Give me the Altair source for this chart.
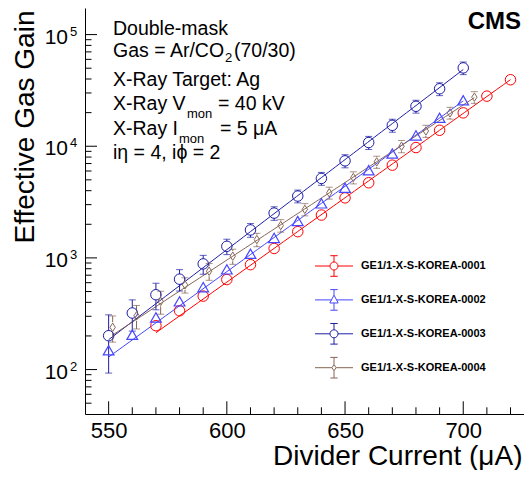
import altair as alt
import pandas as pd

# ---------------- data ----------------
series_names = ["GE1/1-X-S-KOREA-0001", "GE1/1-X-S-KOREA-0002",
                "GE1/1-X-S-KOREA-0003", "GE1/1-X-S-KOREA-0004"]
series_colors = ["#ff0000", "#4646ff", "#1e1ea5", "#876657"]

current_0001 = [570, 580, 590, 600, 610, 620, 630, 640, 650, 660, 670, 680, 690, 700, 710, 720]
gain_0001 = [247, 336, 455, 640, 870, 1215, 1718, 2420, 3450, 4710, 6770, 9730, 13900, 19900, 28100, 39400]
err_0001 = [0, 0, 0, 0, 0, 0, 0, 0, 0, 0, 0, 0, 0, 0, 0, 0]

current_0002 = [550, 560, 570, 580, 590, 600, 610, 620, 630, 640, 650, 660, 670, 680, 690, 700]
gain_0002 = [149, 205, 293, 408, 547, 790, 1090, 1510, 2140, 3080, 4250, 6100, 8600, 12500, 18000, 25800]
err_0002 = [0, 0, 0, 0, 0, 0, 0, 0, 0, 0, 0, 0, 0, 0, 0, 0]

current_0003 = [550, 560, 570, 580, 590, 600, 610, 620, 630, 640, 650, 660, 670, 680, 690, 700]
gain_0003 = [201, 321, 468, 645, 884, 1270, 1780, 2520, 3580, 5150, 7400, 10800, 15400, 22800, 32700, 50300]
err_0003 = [108, 100, 125, 140, 170, 200, 250, 350, 470, 680, 990, 1450, 2050, 3000, 4300, 6500]

current_0004 = [551.7, 561.8, 572.0, 582.3, 592.5, 602.5, 612.7, 622.8, 633.0, 643.3, 653.5, 663.4, 673.9, 684.2, 694.4, 704.7]
gain_0004 = [239, 303, 408, 574, 760, 1036, 1460, 1950, 2720, 3830, 5250, 7240, 10000, 13700, 19900, 27500]
err_0004 = [63, 72, 95, 90, 130, 160, 200, 250, 340, 470, 650, 900, 1250, 1700, 2400, 3300]

x_major_ticks = [550, 600, 650, 700]
x_minor_ticks = [560, 570, 580, 590, 610, 620, 630, 640, 660, 670, 680, 690, 710, 720]
y_major_ticks = [100, 1000, 10000, 100000]
y_minor_ticks = [50, 60, 70, 80, 90,
                 200, 300, 400, 500, 600, 700, 800, 900,
                 2000, 3000, 4000, 5000, 6000, 7000, 8000, 9000,
                 20000, 30000, 40000, 50000, 60000, 70000, 80000, 90000]
y_label_exponents = ["2", "3", "4", "5"]

# ---------------- table ----------------
rows = []
for name, xs, ys, es in zip(series_names,
                            [current_0001, current_0002, current_0003, current_0004],
                            [gain_0001, gain_0002, gain_0003, gain_0004],
                            [err_0001, err_0002, err_0003, err_0004]):
    for xv, yv, ev in zip(xs, ys, es):
        rows.append({"series": name, "current": xv, "gain": yv, "err": ev,
                     "lo": yv - ev, "hi": yv + ev})
df = pd.DataFrame(rows)

FONT = "Liberation Sans"
W, H = 439, 406
xscale = alt.Scale(domain=[540, 725.7], nice=False, zero=False)
yscale = alt.Scale(type="log", domain=[40, 173000], nice=False)
cscale = alt.Scale(domain=series_names, range=series_colors)

xaxis = alt.Axis(title="Divider Current (μA)", titleFont=FONT, titleFontSize=28,
                 titleFontWeight="normal", titleColor="black", titleX=437, titleY=50,
                 titleAlign="right", titleBaseline="alphabetic",
                 values=x_major_ticks, format="d", labelFont=FONT, labelFontSize=22,
                 labelColor="black", labelPadding=6, labelFlush=False, labelOverlap=False,
                 ticks=False, tickSize=0, grid=False, domainColor="black", domainWidth=1)
yaxis = alt.Axis(title="Effective Gas Gain", titleFont=FONT, titleFontSize=28,
                 titleFontWeight="normal", titleColor="black", titleX=-52, titleY=2,
                 titleAngle=270, titleAlign="right", titleBaseline="alphabetic",
                 labels=False, ticks=False, tickSize=0, grid=False,
                 domainColor="black", domainWidth=1)

X = alt.X("current:Q", scale=xscale, axis=xaxis)
Y = alt.Y("gain:Q", scale=yscale, axis=yaxis)
C = alt.Color("series:N", scale=cscale, legend=None)

base = alt.Chart(df)

# fitted exponential lines
lines = base.transform_regression("current", "gain", method="exp", groupby=["series"]).mark_line(
    strokeWidth=1).encode(x=X, y=Y, color=C)

# error bars (outside the marker) + caps
errdata = base.transform_filter(alt.datum.err > 0)
err_up = errdata.mark_rule(strokeWidth=1, y2Offset=-5).encode(
    x=X, y=alt.Y("hi:Q", scale=yscale, axis=yaxis), y2="gain:Q", color=C)
err_dn = errdata.mark_rule(strokeWidth=1, y2Offset=5).encode(
    x=X, y=alt.Y("lo:Q", scale=yscale, axis=yaxis), y2="gain:Q", color=C)
cap_up = errdata.mark_tick(orient="horizontal", size=7, thickness=1).encode(
    x=X, y=alt.Y("hi:Q", scale=yscale, axis=yaxis), color=C)
cap_dn = errdata.mark_tick(orient="horizontal", size=7, thickness=1).encode(
    x=X, y=alt.Y("lo:Q", scale=yscale, axis=yaxis), color=C)

# markers
diamond_path = "M0,-1.4L0.9,0L0,1.4L-0.9,0Z"
circ = base.transform_filter(alt.FieldOneOfPredicate(field="series", oneOf=[series_names[0], series_names[2]])).mark_point(
    shape="circle", size=110, filled=False, strokeWidth=1, opacity=1).encode(x=X, y=Y, color=C)
tri = base.transform_filter(alt.FieldEqualPredicate(field="series", equal=series_names[1])).mark_point(
    shape="triangle-up", size=115, filled=False, strokeWidth=1.2, opacity=1).encode(x=X, y=Y, color=C)
dia = base.transform_filter(alt.FieldEqualPredicate(field="series", equal=series_names[3])).mark_point(
    shape=diamond_path, size=36, filled=False, strokeWidth=1, opacity=1).encode(x=X, y=Y, color=C)

# legend glyphs: line + marker + error bar (unit = 14 px)
circle_glyph = ("M-1.357,0H-0.286M0.286,0H1.357M0,-0.286V-0.736M-0.264,-0.736H0.264"
                "M0,0.286V0.736M-0.264,0.736H0.264"
                "M-0.286,0A0.286,0.286 0 1 0 0.286,0A0.286,0.286 0 1 0 -0.286,0Z")
tri_glyph = ("M-1.357,0H-0.18M0.18,0H1.357M0,-0.34V-0.736M-0.264,-0.736H0.264"
             "M0,0.22V0.736M-0.264,0.736H0.264M0,-0.34L0.3,0.22L-0.3,0.22Z")
dia_glyph = ("M-1.357,0H-0.15M0.15,0H1.357M0,-0.22V-0.736M-0.264,-0.736H0.264"
             "M0,0.22V0.736M-0.264,0.736H0.264M0,-0.22L0.15,0L0,0.22L-0.15,0Z")
legend_paths = [circle_glyph, tri_glyph, circle_glyph, dia_glyph]

leg = alt.Legend(title=None, orient="none", legendX=234.5, legendY=243.5, padding=0,
                 labelFont=FONT, labelFontSize=11, labelFontWeight="bold", labelColor="black",
                 symbolSize=784, symbolStrokeWidth=1, symbolOpacity=1, rowPadding=6.9,
                 labelOffset=12.5, labelLimit=300)
legend_layer = alt.Chart(df).mark_point(opacity=0, filled=False).encode(
    x=X, y=Y,
    color=alt.Color("series:N", scale=cscale, legend=leg),
    shape=alt.Shape("series:N", scale=alt.Scale(domain=series_names, range=legend_paths), legend=leg))

# inward axis ticks
ymaj = alt.Chart(pd.DataFrame({"v": y_major_ticks})).mark_rule(color="black", strokeWidth=1).encode(
    y=alt.Y("v:Q", scale=yscale, axis=yaxis), x=alt.value(0), x2=alt.value(12))
ymin = alt.Chart(pd.DataFrame({"v": y_minor_ticks})).mark_rule(color="black", strokeWidth=1).encode(
    y=alt.Y("v:Q", scale=yscale, axis=yaxis), x=alt.value(0), x2=alt.value(6.5))
xmaj = alt.Chart(pd.DataFrame({"v": x_major_ticks})).mark_rule(color="black", strokeWidth=1).encode(
    x=alt.X("v:Q", scale=xscale, axis=xaxis), y=alt.value(H), y2=alt.value(H - 12.7))
xmin = alt.Chart(pd.DataFrame({"v": x_minor_ticks})).mark_rule(color="black", strokeWidth=1).encode(
    x=alt.X("v:Q", scale=xscale, axis=xaxis), y=alt.value(H), y2=alt.value(H - 6.7))

# y tick labels 10^n
ylab_df = pd.DataFrame({"v": y_major_ticks, "b": ["10"] * 4, "e": y_label_exponents})
ylab_base = alt.Chart(ylab_df).mark_text(font=FONT, fontSize=21, align="right", baseline="alphabetic",
                                         dy=9, color="black").encode(
    y=alt.Y("v:Q", scale=yscale, axis=yaxis), x=alt.value(-17), text="b:N")
ylab_exp = alt.Chart(ylab_df).mark_text(font=FONT, fontSize=13, align="left", baseline="alphabetic",
                                        dy=1, color="black").encode(
    y=alt.Y("v:Q", scale=yscale, axis=yaxis), x=alt.value(-15), text="e:N")


def note(text, x, y, size=19.5, weight="normal", align="left"):
    return alt.Chart(pd.DataFrame({"t": [text]})).mark_text(
        font=FONT, fontSize=size, fontWeight=weight, align=align, baseline="alphabetic",
        color="black").encode(text="t:N", x=alt.value(x), y=alt.value(y))


notes = [
    note("Double-mask", 28, 27),
    note("Gas = Ar/CO", 28, 49),
    note("2", 140, 54, size=13),
    note("(70/30)", 149, 49),
    note("X-Ray Target: Ag", 28, 78),
    note("X-Ray V", 28, 102),
    note("mon", 102, 110, size=13),
    note("= 40 kV", 133, 102),
    note("X-Ray I", 28, 127),
    note("mon", 94, 135, size=13),
    note("= 5 μA", 135, 127),
    note("iη = 4, iϕ = 2", 28, 151),
    note("CMS", 436, 21, size=24, weight="bold", align="right"),
]

chart = alt.layer(
    lines, err_up, err_dn, cap_up, cap_dn, circ, tri, dia, legend_layer,
    ymaj, ymin, xmaj, xmin, ylab_base, ylab_exp, *notes
).resolve_scale(
    color="independent", shape="independent"
).properties(
    width=W, height=H,
    autosize=alt.AutoSizeParams(type="none"),
    padding={"left": 77, "top": 0, "right": 0, "bottom": 56},
    background="white",
).configure_view(stroke=None)

chart.save("out.html", embed_options={"renderer": "svg", "actions": False})
